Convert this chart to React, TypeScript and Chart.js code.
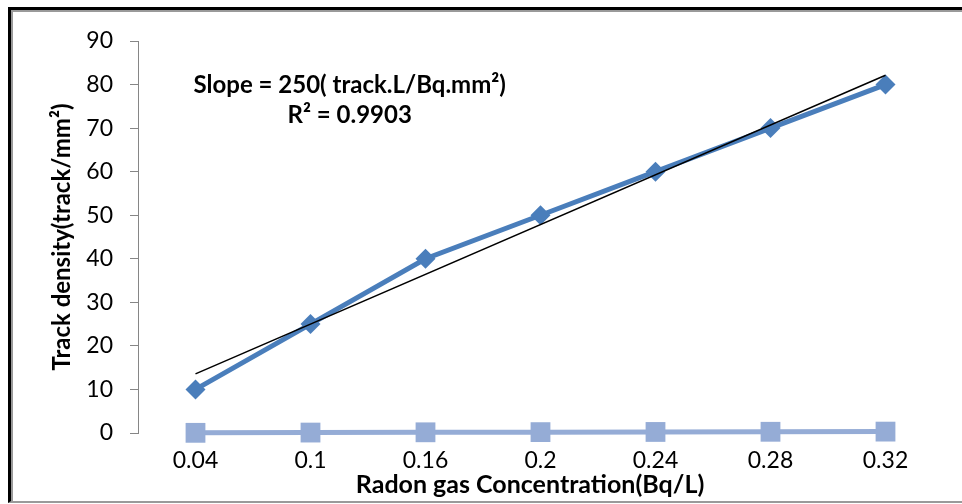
import React, { useEffect, useRef } from "react";
import { Chart, registerables } from "chart.js";

Chart.register(...registerables);

// ---- data ----
const categories = ["0.04", "0.1", "0.16", "0.2", "0.24", "0.28", "0.32"];
const trackDensity = [10, 25, 40, 50, 60, 70, 80];
const concentration = [0.04, 0.1, 0.16, 0.2, 0.24, 0.28, 0.32];
const yMin = 0;
const yMax = 90;
const yStep = 10;
const slopeLabel = "Slope = 250( track.L/Bq.mm²)";
const r2Label = "R² = 0.9903";
const xTitle = "Radon gas Concentration(Bq/L)";
const yTitle = "Track density(track/mm²)";

// Linear trendline (least squares over category index, as the spreadsheet does)
function trendEndpoints(values: number[]): (number | null)[] {
  const n = values.length;
  const mx = (n - 1) / 2;
  const my = values.reduce((a, b) => a + b, 0) / n;
  let sxy = 0;
  let sxx = 0;
  values.forEach((v, i) => {
    sxy += (i - mx) * (v - my);
    sxx += (i - mx) * (i - mx);
  });
  const slope = sxy / sxx;
  const b = my - slope * mx;
  return values.map((_, i) => (i === 0 || i === n - 1 ? b + slope * i : null));
}

const FONT = "Lato, 'Open Sans', sans-serif";

const textPlugin = {
  id: "extraTexts",
  afterDraw(chart: any) {
    const { ctx, chartArea: ca } = chart;
    const w = ca.right - ca.left;
    const h = ca.bottom - ca.top;
    ctx.save();
    ctx.fillStyle = "#000";
    ctx.textAlign = "center";
    ctx.textBaseline = "middle";
    ctx.font = `bold 24px ${FONT}`;
    ctx.fillText(slopeLabel, ca.left + w * 0.263, ca.top + h * 0.112);
    ctx.fillText(r2Label, ca.left + w * 0.263, ca.top + h * 0.189);
    ctx.font = `bold 25px ${FONT}`;
    ctx.fillText(xTitle, ca.left + w * 0.487, chart.height - 19);
    ctx.restore();
  },
};

function ChartView() {
  const ref = useRef<HTMLCanvasElement | null>(null);
  useEffect(() => {
    if (!ref.current) return;
    const chart = new Chart(ref.current, {
      type: "line",
      data: {
        labels: categories,
        datasets: [
          {
            label: "Linear trend",
            data: trendEndpoints(trackDensity),
            borderColor: "#000000",
            borderWidth: 1.5,
            pointRadius: 0,
            spanGaps: true,
            fill: false,
          },
          {
            label: "Track density",
            data: trackDensity,
            borderColor: "#4a7ebb",
            backgroundColor: "#4a7ebb",
            borderWidth: 5,
            pointStyle: "rectRot",
            pointRadius: 10,
            pointBorderWidth: 0,
            fill: false,
            clip: false,
          },
          {
            label: "Concentration",
            data: concentration,
            borderColor: "#95acd6",
            backgroundColor: "#95acd6",
            borderWidth: 5,
            pointStyle: "rect",
            pointRadius: 14,
            pointBorderWidth: 0,
            fill: false,
            clip: false,
          },
        ],
      },
      options: {
        animation: false,
        responsive: true,
        maintainAspectRatio: false,
        layout: { padding: { left: 0, top: 41, right: 19, bottom: 0 } },
        plugins: {
          legend: { display: false },
          tooltip: { enabled: false },
        },
        scales: {
          x: {
            type: "category",
            offset: true,
            grid: { display: false },
            border: { display: false },
            ticks: {
              color: "#000",
              font: { family: FONT, size: 23 },
              padding: 6,
              maxRotation: 0,
            },
            afterFit: (s: any) => {
              s.height = 71;
            },
          },
          y: {
            min: yMin,
            max: yMax,
            ticks: {
              stepSize: yStep,
              color: "#000",
              font: { family: FONT, size: 23 },
              padding: 17,
            },
            grid: {
              drawOnChartArea: false,
              drawTicks: true,
              tickLength: 8,
              color: "#868686",
            },
            border: { color: "#868686", width: 1 },
            title: {
              display: true,
              text: yTitle,
              color: "#000",
              font: { family: FONT, size: 24, weight: "bold" },
              padding: { top: 48, bottom: 0 },
            },
            afterFit: (s: any) => {
              s.width = 138;
            },
          },
        },
      },
      plugins: [textPlugin],
    });
    return () => chart.destroy();
  }, []);
  return <canvas ref={ref} />;
}

export default function App() {
  return (
    <>
      <div
        style={{
          position: "fixed",
          left: 8,
          top: 7,
          width: 954,
          height: 496,
          boxSizing: "border-box",
          borderTop: "3px solid #000",
          borderLeft: "3px solid #000",
          borderBottom: "2px solid #9a9a9a",
          boxShadow: "inset 2px 2px 0 #9a9a9a",
          background: "#fff",
        }}
      />
      <div style={{ position: "fixed", left: 0, top: 0, width: 962, height: 504 }}>
        <ChartView />
      </div>
    </>
  );
}
